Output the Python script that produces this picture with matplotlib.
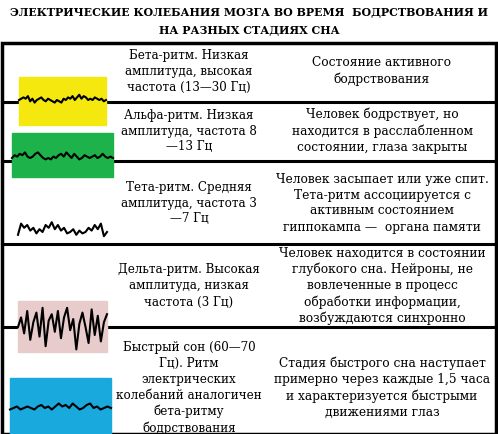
import matplotlib
matplotlib.use("Agg")
import matplotlib.pyplot as plt
from matplotlib.patches import Rectangle

title = ["ЭЛЕКТРИЧЕСКИЕ КОЛЕБАНИЯ МОЗГА ВО ВРЕМЯ  БОДРСТВОВАНИЯ И", "НА РАЗНЫХ СТАДИЯХ СНА"]
rhythms = ["Бета-ритм. Низкая\nамплитуда, высокая\nчастота (13—30 Гц)",
           "Альфа-ритм. Низкая\nамплитуда, частота 8\n—13 Гц",
           "Тета-ритм. Средняя\nамплитуда, частота 3\n—7 Гц",
           "Дельта-ритм. Высокая\nамплитуда, низкая\nчастота (3 Гц)",
           "Быстрый сон (60—70\nГц). Ритм\nэлектрических\nколебаний аналогичен\nбета-ритму\nбодрствования"]
states = ["Состояние активного\nбодрствования",
          "Человек бодрствует, но\nнаходится в расслабленном\nсостоянии, глаза закрыты",
          "Человек засыпает или уже спит.\nТета-ритм ассоциируется с\nактивным состоянием\nгиппокампа —  органа памяти",
          "Человек находится в состоянии\nглубокого сна. Нейроны, не\nвовлеченные в процесс\nобработки информации,\nвозбуждаются синхронно",
          "Стадия быстрого сна наступает\nпримерно через каждые 1,5 часа\nи характеризуется быстрыми\nдвижениями глаз"]
box_colors = ["#f5e80f", "#1eb24a", None, "#e8cccc", "#19a9dc"]

# hand-read trace shapes (relative amplitude)
beta = [0, 1, 2, 1, 3, -1, 1, -2, 0, 1, 2, 0, -1, 1, 0, -1, -2, 0, -1, -2, 1, 0, 2, 1, 3, 0, 2, 4, 1, 3, 2, 0,
        1, 0, 2, 1, 0, 1, -1, 0]
alpha = [0, 2, 1, 3, 2, 4, 1, 0, 1, 3, 4, 2, 0, -1, 0, -1, 1, 0, 2, 3, 1, 4, 2, 0, 3, 1, -1, 0, 2, 1, 0, 1,
         2, 0, 1, 3, 1, 0, 1, 0]
theta = [-2, 6, 3, 5, 1, 3, -1, 2, 0, 5, 3, 7, 2, 5, 1, 3, -1, 0, 2, -2, 1, -1, 0, 3, 1, 5, 2, 6, -3, 0]
delta = [0, 6, -4, 10, -8, 3, 9, -6, 12, -12, 4, 8, -3, 10, -7, 6, 12, -2, 5, -14, 2, 9, 0, -10, 11, -5, 7, -9, 3, 8]
rem = [-1, 0, 1, -1, 0, 1, 0, -1, 1, 2, 0, 1, -1, 1, 3, 1, 2, 0, 3, 1, -1, 0, 2, 3, 0, 1, -1, 0, 1, 0]
traces = [beta, alpha, theta, delta, rem]

row_lines = [43, 102, 161, 244, 327]
boxes = [(19, 77, 87, 48), (12, 133, 101, 44), None, (18, 301, 89, 51), (10, 378, 101, 56)]
trace_x = [(19, 106), (12, 113), (18, 107), (18, 107), (10, 111)]
trace_y = [100, 158, 232, 327, 408]
trace_amp = [1.3, 1.4, 1.4, 1.6, 1.5]
row_centers = [71, 131, 203, 286, 388]

fig = plt.figure(figsize=(4.98, 4.34), dpi=100)
ax = fig.add_axes([0, 0, 1, 1])
ax.set_xlim(0, 498); ax.set_ylim(434, 0); ax.axis("off")
fam = ["DejaVu Serif"]

ax.text(249, 12, title[0], ha="center", va="center", fontsize=7.9, fontweight="bold", family=fam)
ax.text(249, 30, title[1], ha="center", va="center", fontsize=7.9, fontweight="bold", family=fam)
ax.add_patch(Rectangle((2, 43), 494, 391, fill=False, lw=2.5, ec="black"))
for y in row_lines[1:]:
    ax.plot([2, 496], [y, y], color="black", lw=2.2)

for i in range(5):
    if boxes[i]:
        bx, by, bw, bh = boxes[i]
        ax.add_patch(Rectangle((bx, by), bw, bh, color=box_colors[i], zorder=3))
    tr = traces[i]
    x0, x1 = trace_x[i]
    xs = [x0 + (x1 - x0) * k / (len(tr) - 1) for k in range(len(tr))]
    ys = [trace_y[i] - v * trace_amp[i] for v in tr]
    ax.plot(xs, ys, color="black", lw=1.5, zorder=4)
    ax.text(189, row_centers[i], rhythms[i], ha="center", va="center", fontsize=8.6,
            family=fam, linespacing=1.3)
    ax.text(382, row_centers[i], states[i], ha="center", va="center", fontsize=8.8,
            family=fam, linespacing=1.3)

fig.savefig("out.png", dpi=100)
